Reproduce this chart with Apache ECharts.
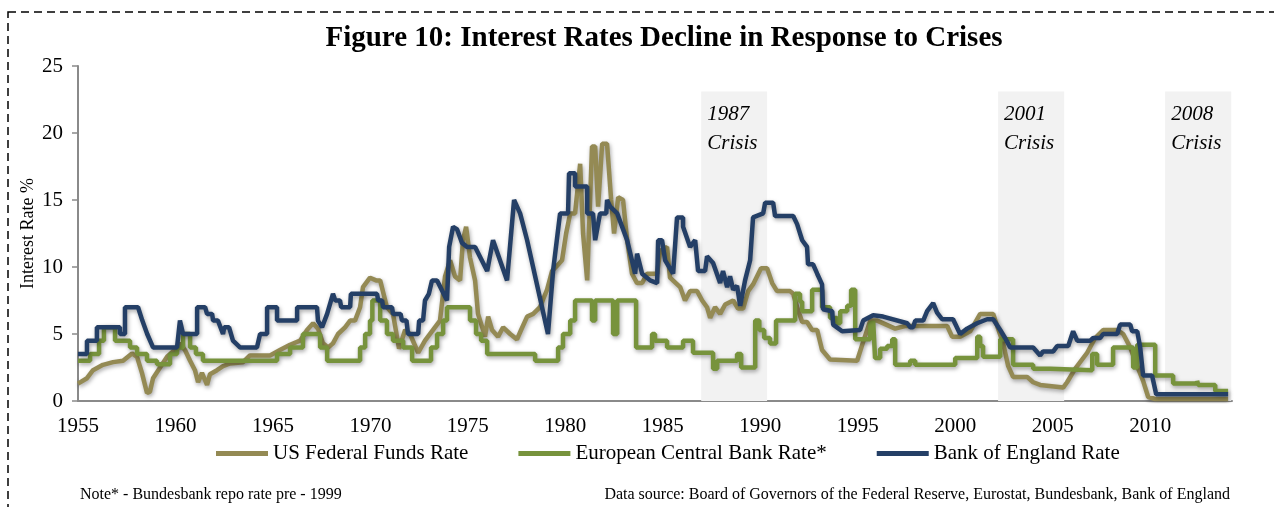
<!DOCTYPE html>
<html>
<head>
<meta charset="utf-8">
<script src="https://cdn.jsdelivr.net/npm/echarts@6/dist/echarts.min.js"></script>
<style>
  html, body { margin: 0; padding: 0; background: #fff; }
  #chart { width: 1274px; height: 507px; }
</style>
</head>
<body>
<div id="chart"></div>
<script>
// ---------- DATA ----------
const seriesNames = ['US Federal Funds Rate', 'European Central Bank Rate*', 'Bank of England Rate'];
const xTickYears = [1955, 1960, 1965, 1970, 1975, 1980, 1985, 1990, 1995, 2000, 2005, 2010];
const yTicks = [0, 5, 10, 15, 20, 25];

const crisisNames = ['1987\nCrisis', '2001\nCrisis', '2008\nCrisis'];
const crisisStart = [1986.97, 2002.2, 2010.77];
const crisisEnd = [1990.35, 2005.59, 2014.16];
const crisisTop = 23.1;

// US Federal Funds Rate [year, %]
const fedRate = [
  [1955.0,1.3],[1955.46,1.7],[1955.77,2.3],[1956.28,2.7],[1956.8,2.9],[1957.31,3.0],[1957.77,3.55],
  [1958.03,3.3],[1958.28,2.1],[1958.54,0.6],[1958.69,0.7],[1958.85,1.7],[1959.21,2.5],[1959.57,3.3],
  [1959.87,3.7],[1960.23,4.3],[1960.49,3.8],[1960.75,3.0],[1961.0,2.3],[1961.16,1.4],[1961.36,2.1],
  [1961.62,1.2],[1961.77,2.0],[1962.13,2.3],[1962.44,2.6],[1962.8,2.8],[1963.47,2.9],[1963.82,3.4],
  [1964.85,3.4],[1965.36,3.8],[1965.88,4.2],[1966.39,4.5],[1966.75,5.3],[1967.06,5.8],[1967.31,5.4],
  [1967.57,4.3],[1967.83,4.0],[1968.08,4.3],[1968.34,5.0],[1968.7,5.5],[1968.96,6.0],[1969.21,6.0],
  [1969.47,7.0],[1969.62,8.5],[1969.98,9.2],[1970.29,9.0],[1970.5,9.0],[1970.85,7.0],[1971.16,6.5],
  [1971.47,3.9],[1971.78,5.3],[1972.03,5.0],[1972.45,3.6],[1972.8,4.5],[1973.57,6.0],[1973.83,9.3],
  [1974.09,10.5],[1974.34,9.3],[1974.6,9.0],[1974.75,12.0],[1974.91,13.0],[1975.11,10.7],[1975.37,9.0],
  [1975.52,6.5],[1975.78,5.3],[1975.88,4.8],[1976.04,6.3],[1976.24,5.3],[1976.55,4.8],[1976.81,5.5],
  [1977.17,5.0],[1977.52,4.6],[1977.73,5.3],[1978.04,6.3],[1978.35,6.5],[1978.7,7.0],[1979.06,8.3],
  [1979.32,9.7],[1979.58,10.1],[1979.83,10.5],[1980.04,12.5],[1980.25,14.0],[1980.5,14.0],[1980.76,17.7],
  [1980.91,12.5],[1981.12,9.0],[1981.37,19.0],[1981.53,19.0],[1981.68,14.5],[1981.89,19.2],[1982.14,19.2],
  [1982.35,15.0],[1982.5,12.5],[1982.71,15.2],[1982.96,15.0],[1983.17,12.0],[1983.42,9.5],[1983.68,8.8],
  [1983.94,8.8],[1984.19,9.5],[1984.71,9.5],[1984.86,11.2],[1985.22,11.5],[1985.37,9.2],[1985.89,8.5],
  [1986.14,7.5],[1986.4,8.2],[1986.76,8.2],[1987.02,7.5],[1987.27,7.0],[1987.43,6.2],[1987.68,7.0],
  [1987.94,6.5],[1988.2,7.2],[1988.61,7.5],[1988.86,6.9],[1989.12,6.9],[1989.38,8.2],[1989.63,8.7],
  [1990.04,9.9],[1990.35,9.9],[1990.61,8.8],[1990.86,8.2],[1991.53,8.2],[1991.69,8.0],[1991.89,7.0],
  [1992.15,5.9],[1992.4,5.9],[1992.66,5.3],[1992.92,5.3],[1993.17,3.8],[1993.58,3.1],[1994.97,3.0],
  [1995.23,4.2],[1995.64,6.0],[1996.0,6.0],[1996.92,5.4],[1997.43,5.6],[1999.59,5.6],[1999.84,4.8],
  [2000.25,4.8],[2000.77,5.2],[2001.28,6.5],[2001.95,6.5],[2002.2,5.4],[2002.46,4.3],[2002.72,2.6],
  [2002.97,1.8],[2003.69,1.8],[2004.0,1.4],[2004.36,1.2],[2005.54,1.0],[2005.74,1.4],[2006.15,2.4],
  [2006.77,3.6],[2007.18,4.7],[2007.59,5.3],[2008.31,5.3],[2008.62,5.0],[2008.98,4.0],[2009.23,3.0],
  [2009.64,1.5],[2009.9,0.3],[2010.26,0.15],[2014.0,0.15]
];

// European Central Bank Rate* (step changes: [year the rate starts, %])
const ecbRate = [
  [1955.0,3.0],[1955.62,3.5],[1956.08,4.5],[1956.33,5.5],[1956.9,4.5],[1957.67,4.0],[1958.03,3.5],
  [1958.54,3.0],[1959.05,2.75],[1959.72,3.5],[1960.08,4.0],[1960.39,5.0],[1960.75,4.0],[1961.05,3.5],
  [1961.41,3.0],[1965.21,3.5],[1965.88,4.0],[1966.54,5.0],[1967.42,4.0],[1967.78,3.0],[1969.47,4.0],
  [1969.73,5.0],[1969.98,6.0],[1970.1,7.5],[1970.5,6.0],[1970.85,5.0],[1971.16,4.5],[1971.68,4.0],
  [1972.14,3.0],[1973.11,4.0],[1973.42,5.0],[1973.73,6.0],[1973.93,7.0],[1975.11,6.0],[1975.42,5.0],
  [1975.68,4.5],[1975.99,3.5],[1978.45,3.0],[1979.63,4.0],[1979.88,5.0],[1980.25,6.0],[1980.5,7.5],
  [1981.37,6.0],[1981.53,7.5],[1982.45,5.0],[1982.66,7.5],[1983.63,4.0],[1984.45,5.0],[1984.6,4.5],
  [1985.22,4.0],[1986.04,4.5],[1986.55,3.6],[1987.58,2.4],[1987.79,3.0],[1988.81,3.5],[1989.02,2.5],
  [1989.74,6.0],[1989.95,5.3],[1990.2,4.7],[1990.5,4.3],[1990.81,6.0],[1991.79,8.0],[1992.04,7.4],
  [1992.15,6.7],[1992.66,8.3],[1993.17,7.0],[1993.58,6.2],[1993.94,5.8],[1994.1,6.7],[1994.46,7.1],
  [1994.66,8.3],[1994.87,4.6],[1995.64,5.8],[1995.79,6.0],[1995.89,3.2],[1996.15,3.9],[1996.51,4.1],
  [1996.77,4.6],[1996.92,2.7],[1997.69,3.0],[1997.95,2.7],[2000.0,3.2],[2001.13,4.8],[2001.28,4.1],
  [2001.43,3.3],[2002.31,4.6],[2002.97,2.7],[2004.0,2.4],[2004.87,2.3],[2007.03,3.5],[2007.28,2.7],
  [2008.1,4.0],[2009.13,2.5],[2009.34,4.2],[2010.26,1.9],[2011.18,1.3],[2012.41,1.5],[2012.47,1.2],
  [2013.34,0.75],[2014.0,0.75]
];

// Bank of England Rate [year, %]
const boeRate = [
  [1955.0,3.5],[1955.46,3.5],[1955.46,4.5],[1955.97,4.5],[1955.97,5.5],[1957.15,5.5],[1957.15,5.0],
  [1957.41,5.0],[1957.41,7.0],[1958.08,7.0],[1958.3,6.0],[1958.55,5.0],[1958.85,4.0],[1960.08,4.0],
  [1960.23,6.0],[1960.39,5.0],[1961.11,5.0],[1961.11,7.0],[1961.52,7.0],[1961.62,6.5],[1961.88,6.5],
  [1961.93,6.0],[1962.18,6.0],[1962.44,5.0],[1962.5,5.5],[1962.75,5.5],[1962.95,4.5],[1963.31,4.0],
  [1964.18,4.0],[1964.34,5.0],[1964.7,5.0],[1964.7,7.0],[1965.21,7.0],[1965.21,6.0],[1966.24,6.0],
  [1966.24,7.0],[1967.26,7.0],[1967.31,6.0],[1967.52,5.5],[1967.78,6.5],[1968.08,8.0],[1968.2,7.5],
  [1968.44,7.5],[1968.5,7.0],[1968.96,7.0],[1969.0,8.0],[1970.34,8.0],[1970.4,7.5],[1970.6,7.5],
  [1970.65,7.0],[1971.11,7.0],[1971.16,6.5],[1971.55,6.5],[1971.62,6.0],[1971.85,6.0],[1971.93,5.0],
  [1972.45,5.0],[1972.5,6.0],[1972.7,6.0],[1972.8,7.5],[1973.0,8.0],[1973.16,9.0],[1973.42,9.0],
  [1973.93,7.5],[1974.04,11.5],[1974.24,13.0],[1974.45,12.8],[1974.7,11.8],[1974.96,11.5],[1975.37,11.5],
  [1975.99,9.7],[1976.29,12.0],[1977.01,9.0],[1977.37,15.0],[1977.68,14.0],[1978.04,12.0],[1979.11,5.0],
  [1979.37,9.7],[1979.73,14.0],[1980.14,14.0],[1980.19,17.0],[1980.5,17.0],[1980.5,16.0],[1981.12,16.0],
  [1981.12,14.0],[1981.42,14.0],[1981.53,12.0],[1981.63,12.0],[1981.78,14.0],[1982.1,14.0],[1982.14,15.0],
  [1982.3,14.5],[1982.66,14.0],[1983.17,12.0],[1983.58,9.5],[1983.68,11.0],[1983.94,9.5],[1984.35,9.0],
  [1984.71,8.8],[1984.76,12.0],[1984.96,12.0],[1985.12,10.5],[1985.53,9.5],[1985.63,9.5],[1985.73,13.7],
  [1986.04,13.7],[1986.04,13.0],[1986.4,11.5],[1986.66,12.0],[1986.81,9.7],[1987.17,9.7],[1987.27,10.8],
  [1987.58,10.3],[1987.94,8.8],[1988.09,9.7],[1988.3,8.5],[1988.45,9.3],[1988.61,8.3],[1988.81,8.6],
  [1988.97,7.1],[1989.22,9.0],[1989.48,10.5],[1989.63,13.7],[1990.15,14.0],[1990.25,14.8],[1990.66,14.8],
  [1990.76,13.8],[1991.69,13.8],[1991.89,13.2],[1992.15,12.0],[1992.4,11.5],[1992.45,10.2],[1992.71,10.2],
  [1992.92,9.5],[1993.17,8.7],[1993.22,6.85],[1993.69,6.7],[1993.74,5.7],[1994.2,5.2],[1995.12,5.3],
  [1995.28,6.0],[1995.79,6.4],[1996.3,6.3],[1997.54,5.8],[1997.69,5.5],[1997.84,5.5],[1997.95,6.0],
  [1998.36,6.0],[1998.56,6.7],[1998.87,7.3],[1999.07,6.6],[1999.33,6.1],[1999.89,6.1],[2000.25,5.0],
  [2000.61,5.4],[2001.12,5.8],[2001.64,6.1],[2001.95,6.1],[2002.31,5.3],[2002.56,4.7],[2002.82,4.0],
  [2004.0,4.0],[2004.36,3.4],[2004.51,3.7],[2005.03,3.7],[2005.23,4.1],[2005.8,4.1],[2006.05,5.2],
  [2006.26,4.5],[2006.93,4.5],[2007.08,4.7],[2007.44,4.7],[2007.59,5.0],[2008.31,5.0],[2008.46,5.7],
  [2008.98,5.7],[2009.08,5.2],[2009.34,5.2],[2009.49,4.0],[2009.64,1.9],[2010.1,1.9],[2010.31,0.5],
  [2014.0,0.5]
];

// ---------- CHART ----------
const SERIF = '"Liberation Serif", "Times New Roman", serif';
const colors = ['#948A54', '#77933C', '#243F66'];
const chart = echarts.init(document.getElementById('chart'), null, { renderer: 'canvas' });

const crisisAreas = crisisNames.map((n, i) => [
  { name: n, xAxis: crisisStart[i], yAxis: 0 },
  { xAxis: crisisEnd[i], yAxis: crisisTop }
]);

const lineShadow = {
  shadowColor: 'rgba(0,0,0,0.35)', shadowBlur: 4, shadowOffsetX: 1, shadowOffsetY: 2
};

chart.setOption({
  animation: false,
  backgroundColor: '#fff',
  grid: { left: 78, right: 42, top: 66, bottom: 106, containLabel: false },
  legend: {
    data: seriesNames,
    left: 211, top: 438,
    icon: 'rect', itemWidth: 52, itemHeight: 5, itemGap: 50,
    textStyle: { fontFamily: SERIF, fontSize: 21, color: '#000' }
  },
  xAxis: {
    type: 'value', min: 1955, max: 2014.2, interval: 5,
    axisLine: { show: true, lineStyle: { color: '#8a8a8a', width: 2 } },
    axisTick: { show: false },
    splitLine: { show: false },
    axisLabel: {
      margin: 15, color: '#000', fontFamily: SERIF, fontSize: 21,
      showMaxLabel: false,
      formatter: v => (xTickYears.indexOf(v) >= 0 ? String(v) : '')
    }
  },
  yAxis: {
    type: 'value', min: yTicks[0], max: yTicks[yTicks.length - 1], interval: 5,
    name: 'Interest Rate %', nameLocation: 'middle', nameGap: 41, nameMoveOverlap: false,
    nameTextStyle: { fontFamily: SERIF, fontSize: 18, color: '#000' },
    axisLine: { show: true, lineStyle: { color: '#8a8a8a', width: 2 } },
    axisTick: { show: true, inside: false, length: 6, lineStyle: { color: '#8a8a8a', width: 1.5 } },
    splitLine: { show: false },
    axisLabel: { margin: 15, color: '#000', fontFamily: SERIF, fontSize: 21 }
  },
  series: [
    {
      name: 'crises', type: 'line', data: [], silent: true, z: 1,
      markArea: {
        silent: true,
        itemStyle: { color: '#F2F2F2' },
        label: {
          show: true, position: 'insideTopLeft', distance: 0, offset: [6, 9],
          fontFamily: SERIF, fontStyle: 'italic', fontSize: 21, lineHeight: 29, color: '#000'
        },
        data: crisisAreas
      }
    },
    {
      name: seriesNames[0], type: 'line', data: fedRate, symbol: 'none', z: 2,
      color: colors[0],
      lineStyle: Object.assign({ width: 4.5, color: colors[0] }, lineShadow)
    },
    {
      name: seriesNames[1], type: 'line', data: ecbRate, symbol: 'none', step: 'end', z: 3,
      color: colors[1],
      lineStyle: Object.assign({ width: 4.5, color: colors[1] }, lineShadow)
    },
    {
      name: seriesNames[2], type: 'line', data: boeRate, symbol: 'none', z: 4,
      color: colors[2],
      lineStyle: Object.assign({ width: 4.5, color: colors[2] }, lineShadow)
    }
  ],
  graphic: [
    {
      type: 'rect', silent: true, z: 100,
      shape: { x: 8, y: 12, width: 1400, height: 800 },
      style: { fill: 'none', stroke: '#000', lineWidth: 1.5, lineDash: [8, 5] }
    },
    {
      type: 'text', x: 664, y: 39, z: 100,
      style: {
        text: 'Figure 10: Interest Rates Decline in Response to Crises',
        fontFamily: SERIF, fontSize: 29, fontWeight: 'bold', fill: '#000',
        textAlign: 'center', textVerticalAlign: 'middle', align: 'center', verticalAlign: 'middle'
      }
    },
    {
      type: 'text', x: 80, y: 495, z: 100,
      style: {
        text: 'Note* - Bundesbank repo rate pre - 1999',
        fontFamily: SERIF, fontSize: 16, fill: '#000',
        textAlign: 'left', textVerticalAlign: 'middle', align: 'left', verticalAlign: 'middle'
      }
    },
    {
      type: 'text', x: 1230, y: 495, z: 100,
      style: {
        text: 'Data source: Board of Governors of the Federal Reserve, Eurostat, Bundesbank, Bank of England',
        fontFamily: SERIF, fontSize: 16, fill: '#000',
        textAlign: 'right', textVerticalAlign: 'middle', align: 'right', verticalAlign: 'middle'
      }
    }
  ]
});
</script>
</body>
</html>
